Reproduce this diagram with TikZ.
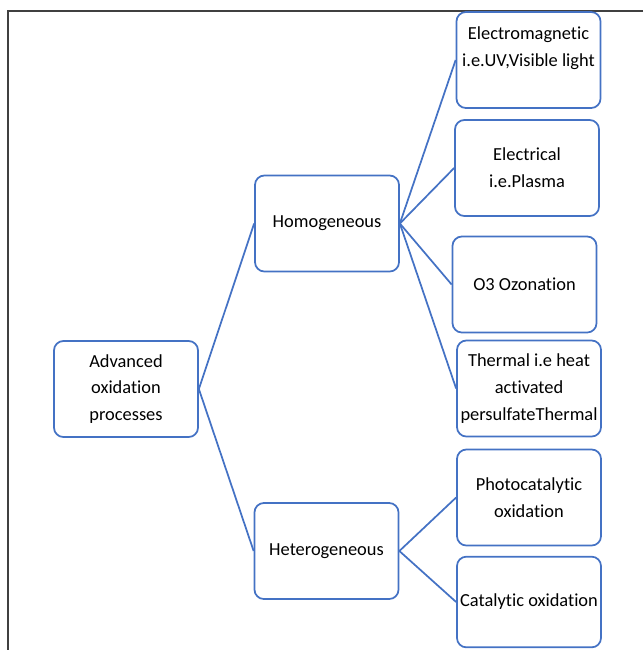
\documentclass[tikz,border=0pt]{standalone}
\usepackage{fontspec}
\setmainfont{Carlito}[Ligatures={NoCommon}]
\definecolor{aopblue}{RGB}{68,114,196}
\definecolor{framegray}{RGB}{64,64,64}
\tikzset{
  procbox/.style={draw=aopblue, line width=1.3pt, rounded corners=7pt, align=center,
    minimum width=108pt, minimum height=72pt, inner sep=1pt,
    font=\fontsize{13.8}{20}\selectfont},
  branch/.style={draw=aopblue, line width=1.3pt}
}
\begin{document}
\begin{tikzpicture}[x=0.75pt,y=0.75pt,yscale=-1,xscale=1]
\useasboundingbox (0,0) rectangle (643,650);

% frame
\draw [framegray, line width=1.2pt] (643,11) -- (8,11) -- (8,650) ;

% Root
\node [procbox] (aop) at (126,389) {Advanced\\oxidation\\processes};

% Second level
\node [procbox] (homo) at (327,223.5) {Homogeneous};
\node [procbox] (hetero) at (326.5,551) {Heterogeneous};

% Homogeneous leaves
\node [procbox] (emag) at (528.5,60) {Electromagnetic\\i.e.UV,Visible light\\\mbox{}};
\node [procbox] (elec) at (527,168) {Electrical\\i.e.Plasma};
\node [procbox] (ozon) at (524.5,284.5) {O3 Ozonation};
\node [procbox] (therm) at (529,388.5) {Thermal i.e heat\\activated\\persulfateThermal};

% Heterogeneous leaves
\node [procbox] (photo) at (529,497.5) {Photocatalytic\\oxidation};
\node [procbox, minimum height=68pt] (catal) at (529,602) {Catalytic oxidation};

% Connectors
\draw [branch] (aop.east) -- (homo.west) ;
\draw [branch] (aop.east) -- (hetero.west) ;
\draw [branch] (homo.east) -- (emag.west) ;
\draw [branch] (homo.east) -- (elec.west) ;
\draw [branch] (homo.east) -- (ozon.west) ;
\draw [branch] (homo.east) -- (therm.west) ;
\draw [branch] (hetero.east) -- (photo.west) ;
\draw [branch] (hetero.east) -- (catal.west) ;

\end{tikzpicture}
\end{document}
